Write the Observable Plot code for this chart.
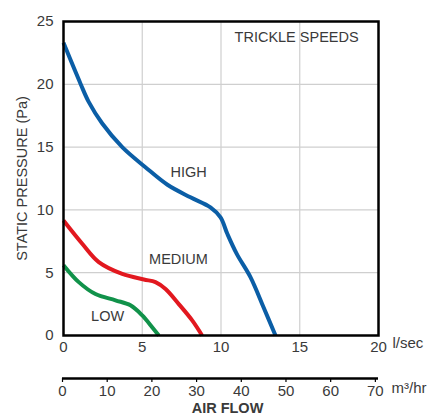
<!DOCTYPE html>
<html>
<head>
<meta charset="utf-8">
<script src="https://cdn.jsdelivr.net/npm/d3@7"></script>
<script src="https://cdn.jsdelivr.net/npm/@observablehq/plot@0.6"></script>
<style>
  html, body { margin: 0; padding: 0; background: #fff; }
  #chart svg { display: block; }
</style>
</head>
<body>
<div id="chart"></div>
<script>
// Flow (l/sec) and static pressure (Pa)
const highFlow = [0, 1.08, 1.6, 2.45, 3.73, 5.2, 6.6, 8.06, 9.33, 9.97, 10.4, 11.0, 11.87, 12.7, 13.46];
const highPressure = [23.3, 20.05, 18.6, 16.9, 15.0, 13.4, 12.0, 11.0, 10.2, 9.4, 8.1, 6.5, 4.65, 2.25, 0];
const mediumFlow = [0, 1.19, 2.24, 3.73, 5.1, 5.84, 6.48, 7.32, 8.17, 8.8];
const mediumPressure = [9.15, 7.3, 5.84, 4.9, 4.46, 4.25, 3.7, 2.5, 1.2, 0];
const lowFlow = [0, 0.97, 2.03, 3.3, 4.25, 5.0, 5.63, 6.05];
const lowPressure = [5.6, 4.25, 3.3, 2.8, 2.4, 1.6, 0.66, 0];

const speedNames = ["HIGH", "MEDIUM", "LOW"];
const speedColors = ["#0b5ea6", "#e2181f", "#11924a"];
const labelFlow = [7.94, 7.3, 2.8];
const labelPressure = [13.0, 6.05, 1.5];

const lsecTicks = [0, 5, 10, 15, 20];
const paTicks = [0, 5, 10, 15, 20, 25];
const m3hrTicks = [0, 10, 20, 30, 40, 50, 60, 70];

const toRows = (name, xs, ys) => xs.map((x, i) => ({speed: name, flow: x, pressure: ys[i]}));
const curves = [
  ...toRows("HIGH", highFlow, highPressure),
  ...toRows("MEDIUM", mediumFlow, mediumPressure),
  ...toRows("LOW", lowFlow, lowPressure)
];
const labels = speedNames.map((n, i) => ({name: n, flow: labelFlow[i], pressure: labelPressure[i]}));

const font = "'Liberation Sans', Arial, Helvetica, sans-serif";
const textColor = "#3a3a3a";

const main = Plot.plot({
  width: 430,
  height: 360,
  marginTop: 21,
  marginBottom: 25,
  marginLeft: 63,
  marginRight: 52,
  style: {fontFamily: font, fontSize: "15px", color: textColor, background: "#fff"},
  x: {domain: [0, 20]},
  y: {domain: [0, 25]},
  color: {domain: speedNames, range: speedColors},
  marks: [
    Plot.gridX([5, 10, 15], {stroke: "#cfcfcf", strokeOpacity: 1, strokeWidth: 1.2}),
    Plot.gridY([5, 10, 15, 20], {stroke: "#cfcfcf", strokeOpacity: 1, strokeWidth: 1.2}),
    Plot.axisY(paTicks, {tickSize: 0, tickPadding: 10, label: null, fontSize: 15, fill: textColor}),
    Plot.axisX(lsecTicks, {tickSize: 0, tickPadding: 6, label: null, fontSize: 15, fill: textColor}),
    Plot.line(curves, {x: "flow", y: "pressure", z: "speed", stroke: "speed", strokeWidth: 4, curve: "catmull-rom", strokeLinecap: "butt"}),
    Plot.frame({stroke: "black", strokeWidth: 2.5}),
    Plot.text(labels, {x: "flow", y: "pressure", text: "name", fontSize: 14.5, fill: textColor}),
    Plot.text(["TRICKLE SPEEDS"], {x: 14.8, y: 23.7, fontSize: 14.5, fill: textColor}),
    Plot.text(["l/sec"], {frameAnchor: "bottom-right", dx: 14, dy: 12, textAnchor: "start", fontSize: 15, fill: textColor}),
    Plot.text(["STATIC PRESSURE (Pa)"], {frameAnchor: "left", textAnchor: "middle", rotate: -90, dx: -41, fontSize: 14.5, fill: textColor})
  ]
});

const secondary = Plot.plot({
  width: 430,
  height: 55,
  marginTop: 17,
  marginBottom: 37,
  marginLeft: 62,
  marginRight: 52,
  style: {fontFamily: font, fontSize: "15px", color: textColor, background: "#fff"},
  x: {domain: [0, 70.7]},
  y: {domain: [0, 1], axis: null},
  marks: [
    Plot.axisX(m3hrTicks, {tickSize: 4, tickPadding: 3, label: null, fontSize: 15, fill: textColor, stroke: "black", strokeWidth: 1.2}),
    Plot.ruleY([0], {stroke: "black", strokeWidth: 2.5}),
    Plot.text(["m³/hr"], {frameAnchor: "bottom-right", dx: 13, dy: 14, textAnchor: "start", fontSize: 15, fill: textColor}),
    Plot.text(["AIR FLOW"], {frameAnchor: "bottom", dx: 7, dy: 34, fontSize: 14.5, fontWeight: "bold", fill: textColor})
  ]
});

const root = document.getElementById("chart");
root.appendChild(main);
root.appendChild(secondary);
</script>
</body>
</html>
